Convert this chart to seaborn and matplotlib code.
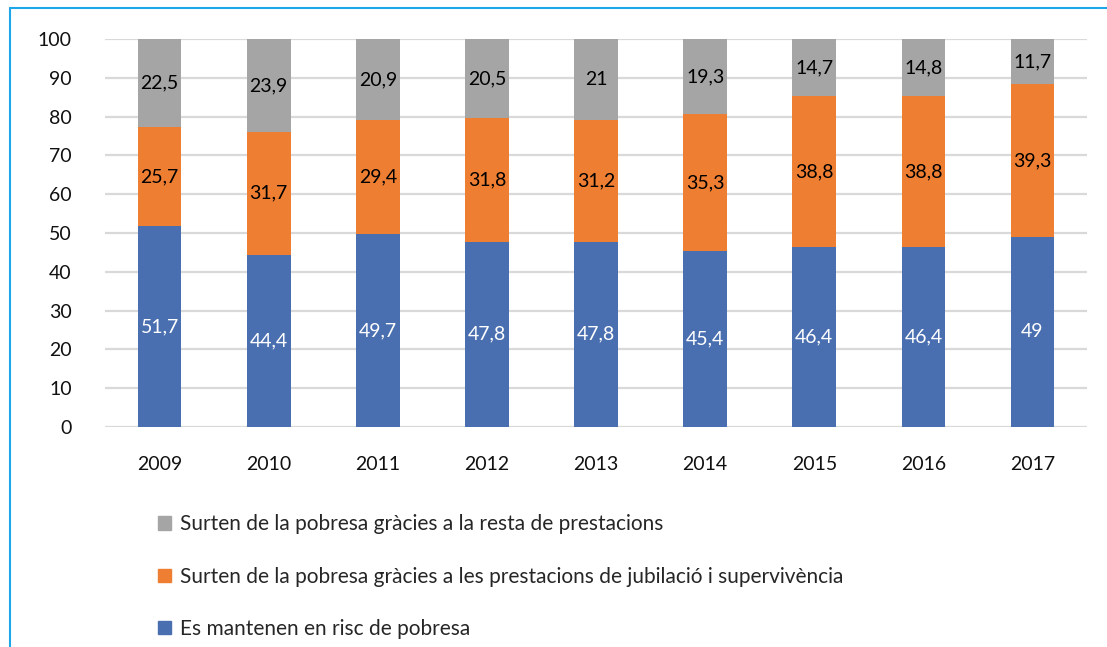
import pandas as pd
import seaborn as sns
import matplotlib.pyplot as plt
from matplotlib.patches import Patch
from matplotlib.lines import Line2D

years = ['2009', '2010', '2011', '2012', '2013', '2014', '2015', '2016', '2017']
risc = [51.7, 44.4, 49.7, 47.8, 47.8, 45.4, 46.4, 46.4, 49]
jubilacio = [25.7, 31.7, 29.4, 31.8, 31.2, 35.3, 38.8, 38.8, 39.3]
resta = [22.5, 23.9, 20.9, 20.5, 21, 19.3, 14.7, 14.8, 11.7]

labels = ['Es mantenen en risc de pobresa',
          'Surten de la pobresa gràcies a les prestacions de jubilació i supervivència',
          'Surten de la pobresa gràcies a la resta de prestacions']
colors = ['#4A6FB0', '#EE7E32', '#A5A5A5']
text_colors = ['white', 'black', 'black']

sns.set_style('white')
plt.rcParams['font.family'] = ['Lato', 'DejaVu Sans']
fs = 14

fig = plt.figure(figsize=(11.07, 6.47), dpi=100)
ax = fig.add_axes([0.0949, 0.340, 0.8871, 0.5997])

df = pd.DataFrame({'year': years, 'risc': risc, 'jub': jubilacio, 'resta': resta})
series = ['risc', 'jub', 'resta']
bottom = [0.0] * len(years)
for s, c, tc in zip(series, colors, text_colors):
    vals = df[s].tolist()
    sns.barplot(x='year', y=s, data=df, bottom=bottom, color=c, width=0.4,
                saturation=1, ax=ax, zorder=3, linewidth=0)
    for i, v in enumerate(vals):
        ax.text(i, bottom[i] + v / 2, f'{v:g}'.replace('.', ','), ha='center', va='center',
                fontsize=fs, color=tc, zorder=4)
    bottom = [b + v for b, v in zip(bottom, vals)]

# let the 2012 bar (sum 100.1) poke just above the top line, as in the original
for p in ax.patches:
    p.set_clip_on(False)

ax.set_ylim(0, 100)
ax.set_xlim(-0.5, 8.5)
ax.set_yticks(range(0, 101, 10))
ax.yaxis.grid(True, color='#d9d9d9', linewidth=1.6, zorder=0)
ax.set_axisbelow(True)
ax.set_xlabel('')
ax.set_ylabel('')
for sp in ax.spines.values():
    sp.set_visible(False)
ax.tick_params(axis='y', labelsize=fs, pad=24, length=0, colors='#111111')
ax.tick_params(axis='x', labelsize=fs, pad=21, length=0, colors='#111111')

handles = [Patch(color=colors[i], label=labels[i]) for i in [2, 1, 0]]
fig.legend(handles=handles, loc='upper left', bbox_to_anchor=(0.1355, 0.218),
           frameon=False, fontsize=15, labelspacing=1.55, handlelength=0.6,
           handleheight=0.6, handletextpad=0.42, borderaxespad=0)

# blue frame at left and top
fig.add_artist(Line2D([10 / 1107, 10 / 1107], [0, 1 - 8 / 647], transform=fig.transFigure,
                      color='#1ea7e8', linewidth=1.5))
fig.add_artist(Line2D([10 / 1107, 1], [1 - 8 / 647, 1 - 8 / 647], transform=fig.transFigure,
                      color='#1ea7e8', linewidth=1.5))

fig.savefig('out.png', dpi=100)
